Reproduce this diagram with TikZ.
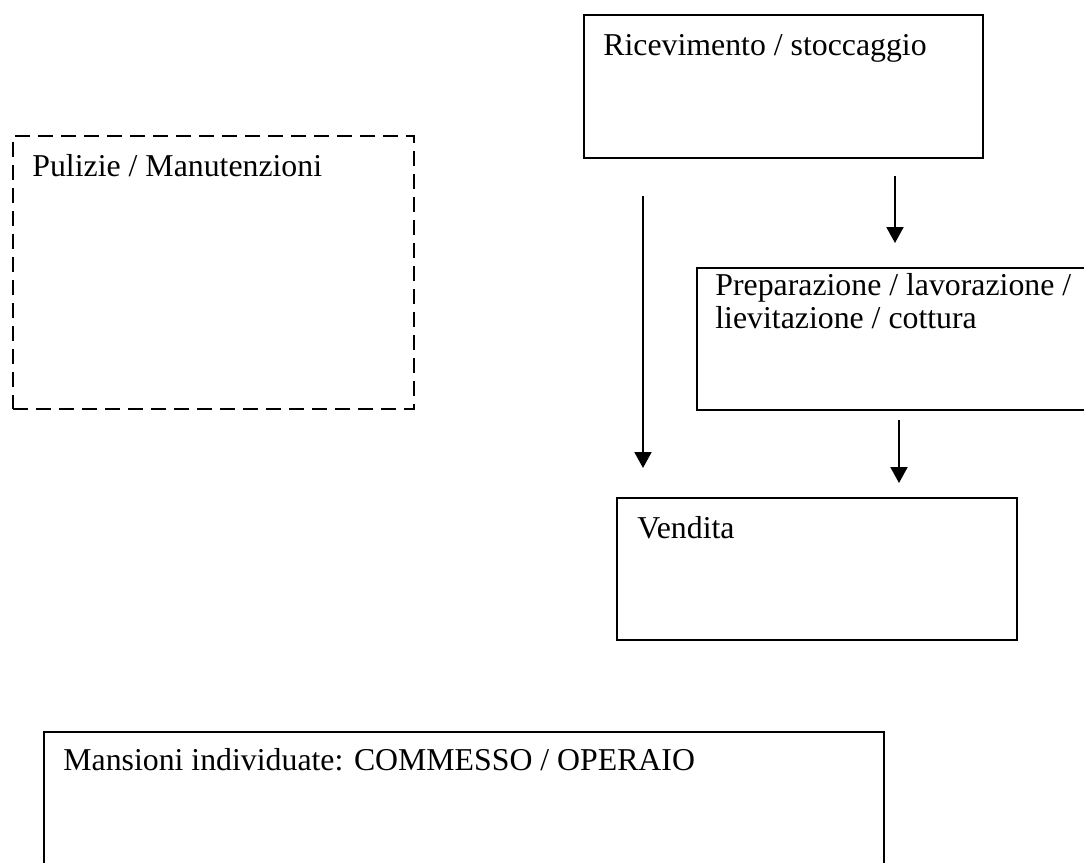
\documentclass[tikz,border=0pt]{standalone}
\usepackage{fontspec}
\setmainfont{Liberation Serif}
\usetikzlibrary{arrows.meta, positioning}

\begin{document}
\begin{tikzpicture}[x=0.5pt, y=-0.5pt,
    box/.style={draw, line width=1.2pt, inner sep=0pt, anchor=north west},
    dashbox/.style={box, dash pattern=on 7.5pt off 4pt},
    lbl/.style={anchor=base west, inner sep=0pt, font=\fontsize{15.9}{16.3}\selectfont, align=left},
    flow/.style={-{Triangle[length=8pt, width=8.5pt]}, line width=1pt}]

\useasboundingbox (0,0) rectangle (1084,863);
\fill[white] (0,0) rectangle (1084,863);
\clip (0,0) rectangle (1084,863);

% Flow boxes (right)
\node[box, minimum width=199.5pt, minimum height=71.5pt] (ric) at (583,14) {};
\node[lbl] (ricTxt) at (603,55) {Ricevimento / stoccaggio};

\node[box, minimum width=200pt, minimum height=71pt] (prep) at (696,267) {};
\node[lbl] (prepTxt) at (715,328) {Preparazione / lavorazione /\\lievitazione / cottura};

\node[box, minimum width=200pt, minimum height=71pt] (vend) at (616,497) {};
\node[lbl] (vendTxt) at (637,538) {Vendita};

% Side box (dashed)
\node[dashbox, minimum width=200.5pt, minimum height=136.5pt] (pul) at (12,135) {};
\node[lbl] (pulTxt) at (32,176) {Pulizie / Manutenzioni};

% Bottom box
\node[box, minimum width=420pt, minimum height=80pt] (man) at (43,731) {};
\node[lbl] (manTxt) at (63,770) {Mansioni individuate: COMMESSO / OPERAIO};

% Arrows
\coordinate (ricOut) at (895,176);
\coordinate (prepIn) at (895,243);
\coordinate (prepOut) at (899,420);
\coordinate (vendIn) at (899,483);
\coordinate (skipOut) at (643,196);
\coordinate (skipIn) at (643,468);

\draw[flow] (ricOut) -- (prepIn);
\draw[flow] (prepOut) -- (vendIn);
\draw[flow] (skipOut) -- (skipIn);
\end{tikzpicture}
\end{document}
